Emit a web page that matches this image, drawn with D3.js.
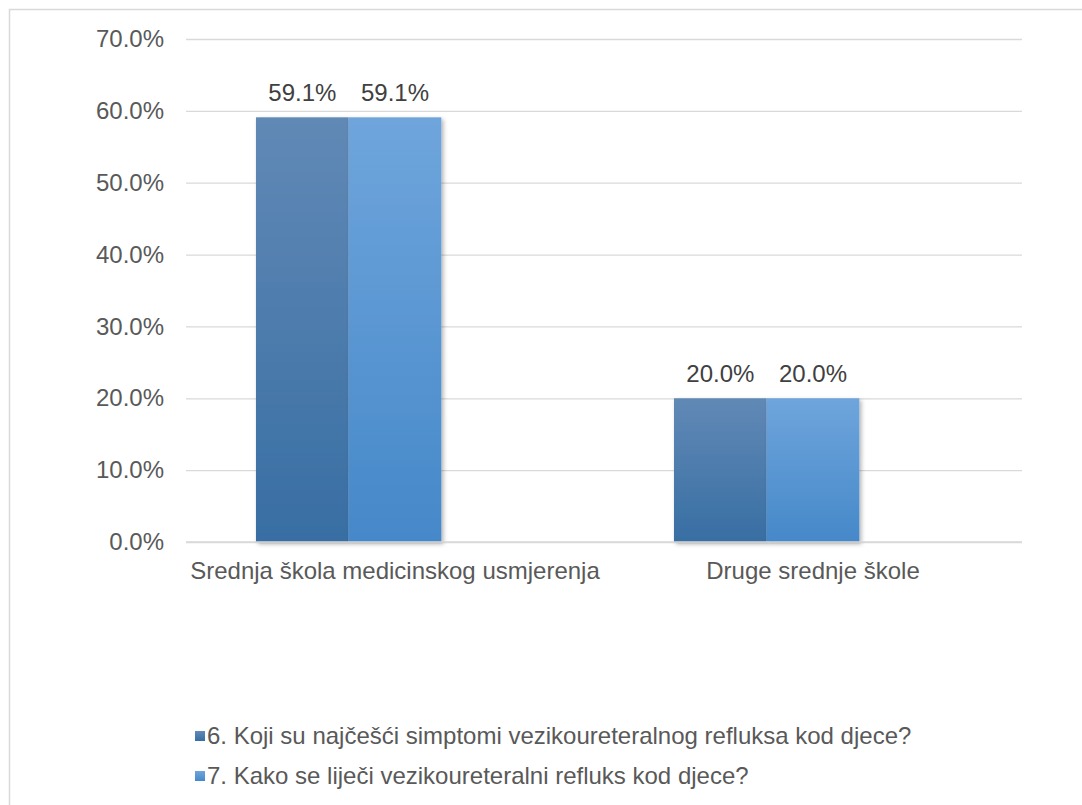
<!DOCTYPE html>
<html>
<head>
<meta charset="utf-8">
<script src="https://cdn.jsdelivr.net/npm/d3@7"></script>
<style>
  body { margin: 0; background: #fff; }
  svg text { font-family: "Liberation Sans", Arial, sans-serif; }
</style>
</head>
<body>
<div id="chart"></div>
<script>
// data
const categories = ["Srednja škola medicinskog usmjerenja", "Druge srednje škole"];
const seriesNames = ["6. Koji su najčešći simptomi vezikoureteralnog refluksa kod djece?",
                     "7. Kako se liječi vezikoureteralni refluks kod djece?"];
const series6 = [0.591, 0.200];
const series7 = [0.591, 0.200];
const yTicks = [0, 0.1, 0.2, 0.3, 0.4, 0.5, 0.6, 0.7];

const seriesValues = [series6, series7];
const seriesTop = ["#6189b6", "#6fa5dc"];
const seriesBottom = ["#386ea3", "#4588c9"];

const width = 1082, height = 805;
const plot = {left: 186, right: 1022, top: 39, bottom: 542};
const fontSize = "24px";

const svg = d3.select("#chart").append("svg")
    .attr("width", width)
    .attr("height", height);

const defs = svg.append("defs");
seriesNames.forEach((s, i) => {
    const g = defs.append("linearGradient")
        .attr("id", "grad" + i)
        .attr("x1", 0).attr("y1", 0).attr("x2", 0).attr("y2", 1);
    g.append("stop").attr("offset", "0%").attr("stop-color", seriesTop[i]);
    g.append("stop").attr("offset", "100%").attr("stop-color", seriesBottom[i]);
});
const shadow = defs.append("filter").attr("id", "shadow")
    .attr("x", "-10%").attr("y", "-10%").attr("width", "130%").attr("height", "130%");
shadow.append("feDropShadow")
    .attr("dx", 2).attr("dy", 2).attr("stdDeviation", 2)
    .attr("flood-color", "#000").attr("flood-opacity", 0.3);

// outer frame
svg.append("rect")
    .attr("x", 9.5).attr("y", 9.5)
    .attr("width", width + 20).attr("height", height + 20)
    .attr("fill", "none").attr("stroke", "#d9d9d9").attr("stroke-width", 1.5);

const x = d3.scaleBand()
    .domain(categories)
    .range([plot.left, plot.right]);

// three slots per category, the third one left empty as in the source chart
const xInner = d3.scaleBand()
    .domain([0, 1, 2])
    .range([0, x.bandwidth()])
    .paddingOuter(0.755);

const y = d3.scaleLinear()
    .domain([0, 0.7])
    .range([plot.bottom, plot.top]);

const fmt = d3.format(".1%");

// gridlines
const yAxis = d3.axisLeft(y)
    .tickValues(yTicks)
    .tickSize(-(plot.right - plot.left))
    .tickPadding(22)
    .tickFormat(fmt);

const yAxisG = svg.append("g")
    .attr("transform", "translate(" + plot.left + ",0)")
    .call(yAxis);
yAxisG.select(".domain").remove();
yAxisG.selectAll(".tick line")
    .attr("stroke", "#d9d9d9")
    .attr("stroke-width", 1.3);
yAxisG.selectAll(".tick text")
    .attr("fill", "#595959")
    .style("font-size", fontSize);

// bars
const groups = svg.append("g").selectAll("g")
    .data(categories)
    .join("g")
    .attr("transform", d => "translate(" + x(d) + ",0)");

seriesValues.forEach((vals, si) => {
    groups.append("rect")
        .attr("x", xInner(si))
        .attr("width", xInner.bandwidth())
        .attr("y", (d, ci) => y(vals[ci]))
        .attr("height", (d, ci) => y(0) - y(vals[ci]))
        .attr("fill", "url(#grad" + si + ")")
        .attr("filter", "url(#shadow)");
    groups.append("text")
        .attr("x", xInner(si) + xInner.bandwidth() / 2)
        .attr("y", (d, ci) => y(vals[ci]) - 16)
        .attr("text-anchor", "middle")
        .attr("fill", "#404040")
        .style("font-size", fontSize)
        .text((d, ci) => fmt(vals[ci]));
});

// x axis line
svg.append("line")
    .attr("x1", plot.left).attr("x2", plot.right)
    .attr("y1", y(0)).attr("y2", y(0))
    .attr("stroke", "#d9d9d9").attr("stroke-width", 1.5);

const xAxis = d3.axisBottom(x).tickSize(0).tickPadding(20);
const xAxisG = svg.append("g")
    .attr("transform", "translate(0," + plot.bottom + ")")
    .call(xAxis);
xAxisG.select(".domain").remove();
xAxisG.selectAll(".tick text")
    .attr("fill", "#595959")
    .style("font-size", fontSize);

// legend
const legend = svg.append("g").selectAll("g")
    .data(seriesNames)
    .join("g")
    .attr("transform", (d, i) => "translate(195," + (736 + i * 40) + ")");
legend.append("rect")
    .attr("x", 0).attr("y", -5)
    .attr("width", 10).attr("height", 10)
    .attr("fill", (d, i) => "url(#grad" + i + ")");
legend.append("text")
    .attr("x", 12).attr("y", 8)
    .attr("fill", "#595959")
    .style("font-size", fontSize)
    .text(d => d);
</script>
</body>
</html>
